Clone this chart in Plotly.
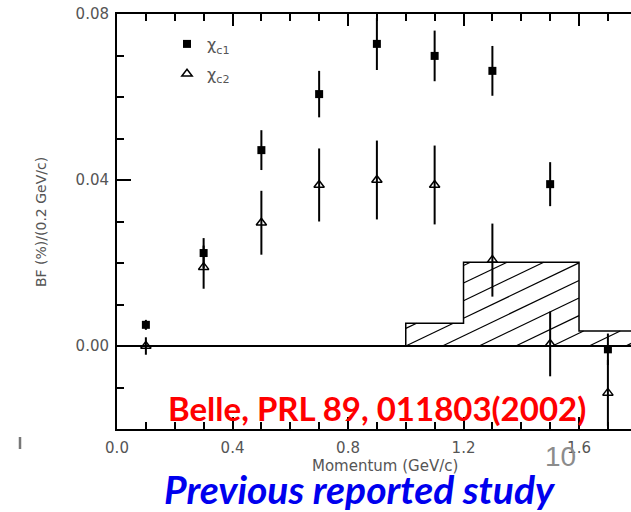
import numpy as np
import plotly.graph_objects as go

# ---- data ----
momentum = [0.1, 0.3, 0.5, 0.7, 0.9, 1.1, 1.3, 1.5, 1.7]
chi_c1 = [0.0051, 0.0224, 0.0472, 0.0607, 0.0728, 0.0699, 0.0663, 0.0390, -0.0008]
chi_c1_err = [0.0012, 0.0036, 0.0048, 0.0056, 0.0063, 0.0061, 0.0060, 0.0053, 0.0038]
chi_c2 = [0.0000, 0.0190, 0.0297, 0.0388, 0.0400, 0.0388, 0.0207, 0.0005, -0.0113]
chi_c2_err = [0.0021, 0.0052, 0.0077, 0.0088, 0.0095, 0.0095, 0.0088, 0.0078, 0.0080]

bkg_edges = [1.0, 1.2, 1.6, 1.8]
bkg_values = [0.0055, 0.0202, 0.0036]

x_tick_vals = [0.0, 0.4, 0.8, 1.2, 1.6]
x_tick_text = ["0.0", "0.4", "0.8", "1.2", "1.6"]
y_tick_vals = [0.00, 0.04, 0.08]
y_tick_text = ["0.00", "0.04", "0.08"]

X_RANGE = [0, 1.78]
Y_RANGE = [-0.02, 0.08]

W, H = 631, 512
ML, MT, MR, MB = 117, 14, 0, 83
PW, PH = W - ML - MR, H - MT - MB

fig = go.Figure()

# ---- hatched background histogram ----
ox, oy = [bkg_edges[0]], [0.0]
for i, h in enumerate(bkg_values):
    ox += [bkg_edges[i], bkg_edges[i + 1]]
    oy += [h, h]
ox.append(bkg_edges[-1]); oy.append(0.0)

# hatch lines (style): pixel slope and spacing converted through axis scales
px_per_x = PW / (X_RANGE[1] - X_RANGE[0])
px_per_y = PH / (Y_RANGE[1] - Y_RANGE[0])
hatch_slope_px = 0.48
k = hatch_slope_px * px_per_x / px_per_y
spacing = 0.127
hx, hy = [], []
hmax = max(bkg_values)
c = bkg_edges[0]
while c - spacing > bkg_edges[0] - hmax / k:
    c -= spacing
while c < bkg_edges[-1]:
    segx, segy = [], []
    for i, h in enumerate(bkg_values):
        a, b = bkg_edges[i], bkg_edges[i + 1]
        x0 = max(a, c)
        x1 = min(b, c + h / k)
        if x1 > x0:
            if segx and abs(segx[-1] - x0) > 1e-9:
                hx += segx + [None]; hy += segy + [None]
                segx, segy = [], []
            if not segx:
                segx += [x0]; segy += [k * (x0 - c)]
            segx += [x1]; segy += [k * (x1 - c)]
        else:
            if segx:
                hx += segx + [None]; hy += segy + [None]
                segx, segy = [], []
    if segx:
        hx += segx + [None]; hy += segy + [None]
    c += spacing

fig.add_trace(go.Scatter(x=hx, y=hy, mode="lines", line=dict(color="black", width=1.2),
                         showlegend=False, hoverinfo="skip", connectgaps=False))
fig.add_trace(go.Scatter(x=ox, y=oy, mode="lines", line=dict(color="black", width=1.5),
                         showlegend=False, hoverinfo="skip"))

# ---- data points ----
fig.add_trace(go.Scatter(
    x=momentum, y=chi_c1, mode="markers", name="χ<sub>c1</sub>", legendgroup="a",
    marker=dict(symbol="square", size=8, color="black"),
    error_y=dict(type="data", array=chi_c1_err, color="black", thickness=2, width=0)))
fig.add_trace(go.Scatter(
    x=momentum, y=chi_c2, mode="markers", name="χ<sub>c2</sub>", legendgroup="b",
    marker=dict(symbol="triangle-up-open", size=9, color="black", line=dict(width=1.5)),
    error_y=dict(type="data", array=chi_c2_err, color="black", thickness=2, width=0)))

def px_x(p):
    return (p - ML) / PW

def px_y(p):
    return 1 - (p - MT) / PH

tickfont = dict(family="DejaVu Sans", size=15, color="#555555")

fig.update_layout(
    width=W, height=H, autosize=False,
    margin=dict(l=ML, r=MR, t=MT, b=MB, pad=0),
    paper_bgcolor="white", plot_bgcolor="white",
    font=dict(family="DejaVu Sans", size=13, color="#555555"),
    showlegend=True,
    legend=dict(x=px_x(167), y=px_y(27), xanchor="left", yanchor="top",
                bgcolor="rgba(0,0,0,0)", font=dict(size=16, color="#555555"),
                tracegroupgap=6, traceorder="grouped", itemwidth=30),
    xaxis=dict(range=X_RANGE, showline=True, linecolor="black", linewidth=2,
               mirror="ticks", ticks="inside", ticklen=12, tickwidth=1.5, tickcolor="black",
               tickmode="array", tickvals=x_tick_vals, ticktext=x_tick_text,
               tickfont=tickfont, ticklabelstandoff=4,
               minor=dict(tickmode="linear", tick0=0, dtick=0.1, ticks="inside",
                          ticklen=7, tickwidth=1.5, tickcolor="black", showgrid=False),
               showgrid=False, zeroline=False),
    yaxis=dict(range=Y_RANGE, showline=True, linecolor="black", linewidth=2,
               mirror=False, ticks="inside", ticklen=14, tickwidth=1.5, tickcolor="black",
               tickmode="array", tickvals=y_tick_vals, ticktext=y_tick_text,
               tickfont=tickfont, ticklabelstandoff=3,
               minor=dict(tickmode="linear", tick0=0, dtick=0.01, ticks="inside",
                          ticklen=7, tickwidth=1.5, tickcolor="black", showgrid=False),
               showgrid=False, zeroline=True, zerolinecolor="black", zerolinewidth=1.5),
)

annotations = [
    dict(text="BF (%)/(0.2 GeV/c)", x=px_x(41), y=px_y(222), textangle=-90,
         font=dict(family="DejaVu Sans", size=14, color="#555555")),
    dict(text="Momentum (GeV/c)", x=px_x(385), y=px_y(466),
         font=dict(family="DejaVu Sans", size=15, color="#555555")),
    dict(text="<b>Belle, PRL 89, 011803(2002)</b>", x=px_x(377), y=px_y(408),
         font=dict(family="Lato", size=33, color="#ff0000")),
    dict(text="10", x=px_x(560), y=px_y(456),
         font=dict(family="Liberation Sans", size=28, color="#8c8c8c")),
    dict(text="<b><i>Previous reported study</i></b>", x=px_x(360), y=px_y(489),
         font=dict(family="Lato", size=39, color="#0000ee")),
]
for a in annotations:
    a.update(xref="paper", yref="paper", showarrow=False, xanchor="center", yanchor="middle")
fig.update_layout(annotations=annotations)

fig.add_shape(type="line", xref="paper", yref="paper",
              x0=px_x(20), x1=px_x(20), y0=px_y(437), y1=px_y(449),
              line=dict(color="#777777", width=2.5))

fig.write_html("out.html")
